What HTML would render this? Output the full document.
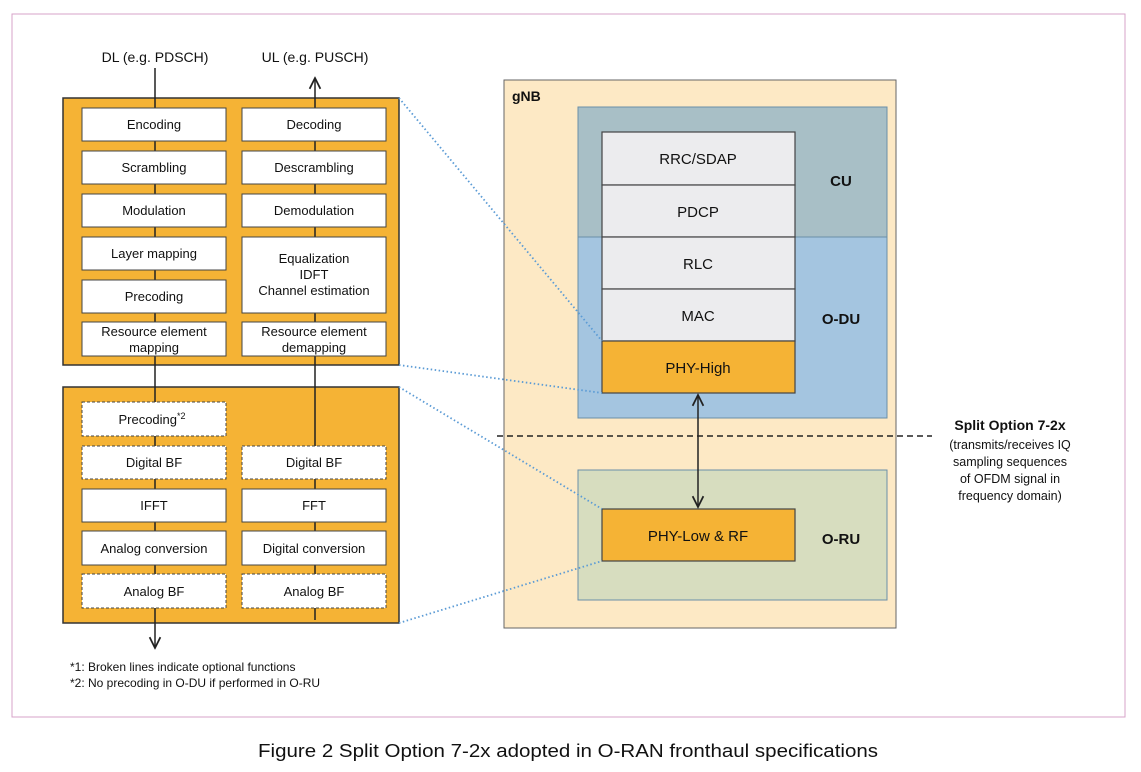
<!DOCTYPE html>
<html><head><meta charset="utf-8"><style>body{margin:0;background:#fff}svg{display:block}text{font-family:"Liberation Sans",sans-serif;fill:#111}</style></head><body>
<svg width="1141" height="772" viewBox="0 0 1141 772" xmlns="http://www.w3.org/2000/svg">
<defs><marker id="a" viewBox="0 0 10 10" refX="9" refY="5" markerWidth="9" markerHeight="9" orient="auto-start-reverse"><path d="M1 1L9 5L1 9" fill="none" stroke="#222" stroke-width="1.3"/></marker></defs>
<rect x="12" y="14" width="1113" height="703" fill="#fff" stroke="#d7a3c9" stroke-width="1"/>
<rect x="63" y="98" width="336" height="267" fill="#f5b335" stroke="#333" stroke-width="1.5"/>
<rect x="63" y="387" width="336" height="236" fill="#f5b335" stroke="#333" stroke-width="1.5"/>
<line x1="155" y1="68" x2="155" y2="648" stroke="#222" stroke-width="1.5" marker-end="url(#a)"/>
<line x1="315" y1="620" x2="315" y2="78" stroke="#222" stroke-width="1.5" marker-end="url(#a)"/>
<text x="155" y="62" font-size="14" text-anchor="middle">DL (e.g. PDSCH)</text>
<text x="315" y="62" font-size="14" text-anchor="middle">UL (e.g. PUSCH)</text>
<g stroke="#444" stroke-width="1" fill="#fff">
<rect x="82" y="108" width="144" height="33"/><rect x="82" y="151" width="144" height="33"/><rect x="82" y="194" width="144" height="33"/><rect x="82" y="237" width="144" height="33"/><rect x="82" y="280" width="144" height="33"/><rect x="82" y="322" width="144" height="34"/>
<rect x="242" y="108" width="144" height="33"/><rect x="242" y="151" width="144" height="33"/><rect x="242" y="194" width="144" height="33"/><rect x="242" y="237" width="144" height="76"/><rect x="242" y="322" width="144" height="34"/>
<rect x="82" y="489" width="144" height="33"/><rect x="82" y="531" width="144" height="34"/>
<rect x="242" y="489" width="144" height="33"/><rect x="242" y="531" width="144" height="34"/>
</g>
<g stroke="#444" stroke-width="1" fill="#fff" stroke-dasharray="3,2">
<rect x="82" y="402" width="144" height="34"/><rect x="82" y="446" width="144" height="33"/><rect x="82" y="574" width="144" height="34"/>
<rect x="242" y="446" width="144" height="33"/><rect x="242" y="574" width="144" height="34"/>
</g>
<g font-size="13" text-anchor="middle">
<text x="154" y="129">Encoding</text><text x="154" y="172">Scrambling</text><text x="154" y="215">Modulation</text><text x="154" y="258">Layer mapping</text><text x="154" y="301">Precoding</text>
<text x="154" y="336">Resource element</text><text x="154" y="352">mapping</text>
<text x="314" y="129">Decoding</text><text x="314" y="172">Descrambling</text><text x="314" y="215">Demodulation</text>
<text x="314" y="263">Equalization</text><text x="314" y="279">IDFT</text><text x="314" y="295">Channel estimation</text>
<text x="314" y="336">Resource element</text><text x="314" y="352">demapping</text>
<text x="152" y="424">Precoding<tspan font-size="9" dy="-5">*2</tspan></text>
<text x="154" y="467">Digital BF</text><text x="154" y="510">IFFT</text><text x="154" y="553">Analog conversion</text><text x="154" y="596">Analog BF</text>
<text x="314" y="467">Digital BF</text><text x="314" y="510">FFT</text><text x="314" y="553">Digital conversion</text><text x="314" y="596">Analog BF</text>
</g>
<text x="70" y="671" font-size="12">*1: Broken lines indicate optional functions</text>
<text x="70" y="687" font-size="12">*2: No precoding in O-DU if performed in O-RU</text>
<rect x="504" y="80" width="392" height="548" fill="#fde9c5" stroke="#666" stroke-width="1"/>
<text x="512" y="101" font-size="14" font-weight="bold">gNB</text>
<rect x="578" y="107" width="309" height="130" fill="#a8bfc6" stroke="#6a8fa8" stroke-width="1"/>
<rect x="578" y="237" width="309" height="181" fill="#a4c5e0" stroke="#6a8fa8" stroke-width="1"/>
<rect x="578" y="470" width="309" height="130" fill="#d7ddbf" stroke="#6a8fa8" stroke-width="1"/>
<g stroke="#444" stroke-width="1.2" fill="#ececee">
<rect x="602" y="132" width="193" height="53"/><rect x="602" y="185" width="193" height="52"/><rect x="602" y="237" width="193" height="52"/><rect x="602" y="289" width="193" height="52"/>
<rect x="602" y="341" width="193" height="52" fill="#f5b335"/><rect x="602" y="509" width="193" height="52" fill="#f5b335"/>
</g>
<g font-size="15" text-anchor="middle">
<text x="698" y="164">RRC/SDAP</text><text x="698" y="217">PDCP</text><text x="698" y="269">RLC</text><text x="698" y="321">MAC</text><text x="698" y="373">PHY-High</text><text x="698" y="541">PHY-Low &amp; RF</text>
</g>
<g font-size="15" font-weight="bold" text-anchor="middle"><text x="841" y="186">CU</text><text x="841" y="324">O-DU</text><text x="841" y="544">O-RU</text></g>
<line x1="698" y1="395" x2="698" y2="507" stroke="#222" stroke-width="1.5" marker-start="url(#a)" marker-end="url(#a)"/>
<line x1="497" y1="436" x2="932" y2="436" stroke="#222" stroke-width="1.6" stroke-dasharray="6,4"/>
<text x="1010" y="430" font-size="14" font-weight="bold" text-anchor="middle">Split Option 7-2x</text>
<g font-size="12.5" text-anchor="middle"><text x="1010" y="449">(transmits/receives IQ</text><text x="1010" y="466">sampling sequences</text><text x="1010" y="483">of OFDM signal in</text><text x="1010" y="500">frequency domain)</text></g>
<g stroke="#5b9bd5" stroke-width="1.8" stroke-dasharray="1.5,2.5" fill="none">
<line x1="399" y1="98" x2="602" y2="341"/><line x1="399" y1="365" x2="602" y2="393"/><line x1="399" y1="387" x2="602" y2="509"/><line x1="399" y1="623" x2="602" y2="561"/>
</g>
<text x="258" y="757" font-size="18" textLength="620" lengthAdjust="spacingAndGlyphs">Figure 2   Split Option 7-2x adopted in O-RAN fronthaul specifications</text>
</svg>
</body></html>
